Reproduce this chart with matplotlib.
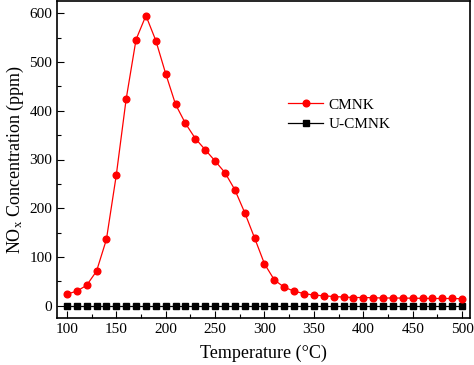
import numpy as np
import matplotlib
matplotlib.use("Agg")
import matplotlib.pyplot as plt
from matplotlib.ticker import MultipleLocator

temperature = list(range(100, 501, 10))
cmnk = [24, 30, 42, 71, 136, 268, 424, 546, 595, 544,
        476, 413, 374, 343, 320, 297, 273, 238, 191, 139,
        86, 53, 38, 30, 25, 22, 20.5, 19, 18, 17,
        17, 16.5, 16, 16, 15.8, 15.6, 15.3, 15, 15, 15, 14.5]
ucmnk = [0] * len(temperature)

plt.rcParams['font.family'] = ['Liberation Serif', 'DejaVu Serif']
plt.rcParams['mathtext.fontset'] = 'custom'
plt.rcParams['mathtext.rm'] = 'Liberation Serif'
plt.rcParams['mathtext.it'] = 'Liberation Serif:italic'

fig = plt.figure(figsize=(4.74, 3.65), dpi=100)
ax = fig.add_axes([57/474, 1-318/365, (470-57)/474, (318-1)/365])

ax.plot(temperature, cmnk, color='#ff0000', lw=0.9, marker='o', ms=4.8,
        label='CMNK', zorder=3)
ax.plot(temperature, ucmnk, color='black', lw=0.9, marker='s', ms=3.8,
        label='U-CMNK', zorder=2)

ax.set_xlim(90, 508)
ax.set_ylim(-25, 625)
ax.xaxis.set_major_locator(MultipleLocator(50))
ax.xaxis.set_minor_locator(MultipleLocator(25))
ax.yaxis.set_major_locator(MultipleLocator(100))
ax.yaxis.set_minor_locator(MultipleLocator(50))
ax.tick_params(which='both', direction='in', labelsize=11, width=0.8)
ax.tick_params(which='major', length=5)
ax.tick_params(which='minor', length=3)
for s in ax.spines.values():
    s.set_linewidth(1.2)

ax.set_xlabel('Temperature (°C)', fontsize=13, labelpad=6)
ax.set_ylabel(r'NO$_\mathregular{x}$ Concentration (ppm)', fontsize=13, labelpad=2.5)

ax.legend(loc='center left', bbox_to_anchor=(288/474, 1-114.5/365),
          bbox_transform=fig.transFigure, frameon=False, fontsize=11,
          handlelength=2.3, handletextpad=0.35, borderpad=0, borderaxespad=0,
          labelspacing=0.35)

fig.savefig('out.png', dpi=100)
